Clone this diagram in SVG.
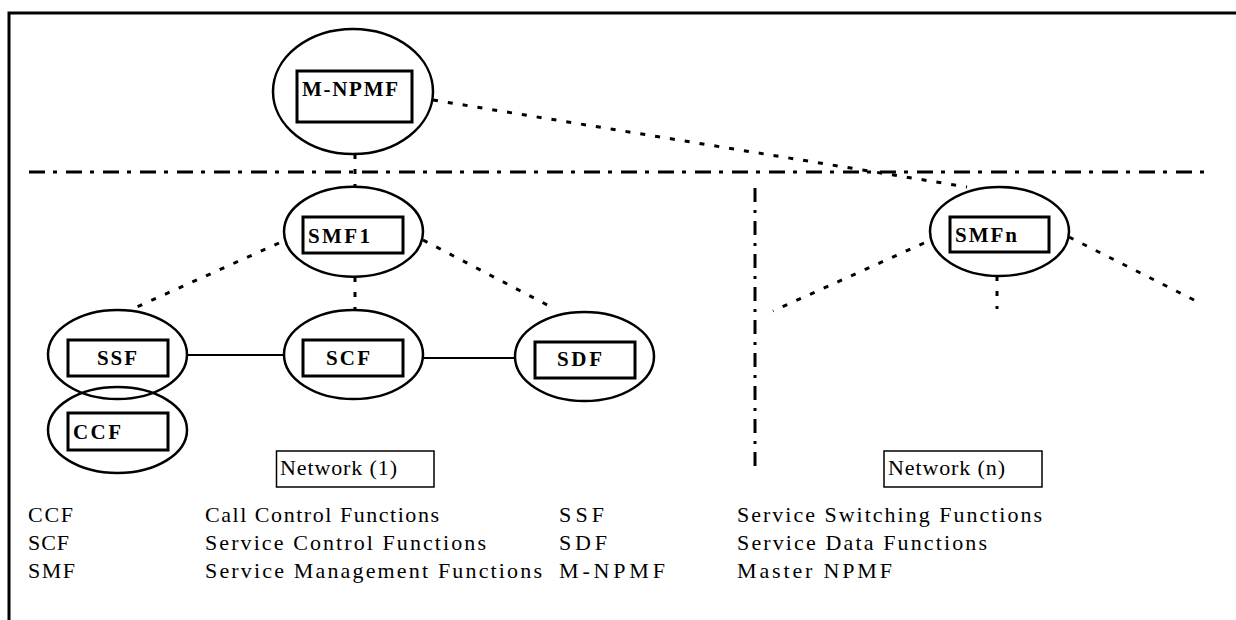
<svg xmlns="http://www.w3.org/2000/svg" width="1236" height="620" viewBox="0 0 1236 620">
<style>
.ell{fill:none;stroke:#000;stroke-width:2.5}
.box{fill:none;stroke:#000;stroke-width:3}
.nbox{fill:none;stroke:#000;stroke-width:1.5}
.lbl{font-family:"Liberation Serif","Times New Roman",serif;font-weight:bold;font-size:21px;fill:#000}
.txt{font-family:"Liberation Serif","Times New Roman",serif;font-size:22px;fill:#000}
.dot{fill:none;stroke:#000;stroke-width:3;stroke-dasharray:5 10}
.solid{fill:none;stroke:#000;stroke-width:2}
.dd{fill:none;stroke:#000;stroke-width:3}
</style>
<rect width="1236" height="620" fill="#fff"/>
<path d="M9,620 V13 H1236" fill="none" stroke="#000" stroke-width="3"/>
<g id="separators">
<line class="dd" x1="29" y1="172" x2="1207" y2="172" stroke-dasharray="16 8 4 9"/>
<line class="dd" x1="755" y1="188" x2="755" y2="467" stroke-dasharray="14 8 3 8"/>
</g>
<g id="connectors">
<line class="dot" x1="355" y1="154" x2="355" y2="187"/>
<line class="dot" x1="433" y1="100" x2="967" y2="187"/>
<line class="dot" x1="279" y1="243" x2="130" y2="310"/>
<line class="dot" x1="423" y1="240" x2="555" y2="309"/>
<line class="dot" x1="355" y1="277" x2="355" y2="310"/>
<line class="dot" x1="924" y1="243" x2="773" y2="311"/>
<line class="dot" x1="1069" y1="237" x2="1200" y2="303"/>
<line class="dot" x1="997" y1="276" x2="997" y2="309"/>
<line class="solid" x1="187" y1="355" x2="284" y2="355"/>
<line class="solid" x1="423" y1="358" x2="515" y2="358"/>
</g>
<g id="mnpmf">
<ellipse class="ell" cx="353" cy="91.5" rx="80" ry="62.5"/>
<rect class="box" x="297" y="71" width="115" height="51"/>
<text class="lbl" x="302" y="96" textLength="96" lengthAdjust="spacing">M-NPMF</text>
</g>
<g id="smf1">
<ellipse class="ell" cx="353.5" cy="231.7" rx="69.5" ry="45"/>
<rect class="box" x="303" y="217" width="100" height="36"/>
<text class="lbl" x="308" y="243" textLength="62" lengthAdjust="spacing">SMF1</text>
</g>
<g id="ssf">
<ellipse class="ell" cx="117.5" cy="354.5" rx="69.5" ry="44.5"/>
<rect class="box" x="68" y="340" width="100" height="36"/>
<text class="lbl" x="97" y="365" textLength="40" lengthAdjust="spacing">SSF</text>
</g>
<g id="ccf">
<ellipse class="ell" cx="117.5" cy="430" rx="69.5" ry="43"/>
<rect class="box" x="68" y="413" width="100" height="37"/>
<text class="lbl" x="73" y="439" textLength="48" lengthAdjust="spacing">CCF</text>
</g>
<g id="scf">
<ellipse class="ell" cx="353.5" cy="354.5" rx="69.5" ry="44.5"/>
<rect class="box" x="303" y="340" width="100" height="36"/>
<text class="lbl" x="326" y="365" textLength="44" lengthAdjust="spacing">SCF</text>
</g>
<g id="sdf">
<ellipse class="ell" cx="584.5" cy="356.5" rx="69.5" ry="44.5"/>
<rect class="box" x="535" y="342" width="100" height="36"/>
<text class="lbl" x="557" y="366" textLength="45" lengthAdjust="spacing">SDF</text>
</g>
<g id="smfn">
<ellipse class="ell" cx="999.5" cy="231.5" rx="69.5" ry="44.5"/>
<rect class="box" x="950" y="217" width="99" height="35"/>
<text class="lbl" x="955" y="242" textLength="62" lengthAdjust="spacing">SMFn</text>
</g>
<g id="network1">
<rect class="nbox" x="276.5" y="451" width="157.5" height="36"/>
<text class="txt" x="280" y="475" textLength="117" lengthAdjust="spacing">Network (1)</text>
</g>
<g id="networkn">
<rect class="nbox" x="884" y="451" width="158" height="36"/>
<text class="txt" x="888" y="475" textLength="117" lengthAdjust="spacing">Network (n)</text>
</g>
<g id="legend">
<text class="txt" x="28" y="522" textLength="45" lengthAdjust="spacing">CCF</text>
<text class="txt" x="28" y="550" textLength="41" lengthAdjust="spacing">SCF</text>
<text class="txt" x="28" y="578" textLength="47" lengthAdjust="spacing">SMF</text>
<text class="txt" x="205" y="522" textLength="234" lengthAdjust="spacing">Call Control Functions</text>
<text class="txt" x="205" y="550" textLength="281" lengthAdjust="spacing">Service Control Functions</text>
<text class="txt" x="205" y="578" textLength="337" lengthAdjust="spacing">Service Management Functions</text>
<text class="txt" x="559" y="522" textLength="45" lengthAdjust="spacing">SSF</text>
<text class="txt" x="559" y="550" textLength="48" lengthAdjust="spacing">SDF</text>
<text class="txt" x="559" y="578" textLength="106" lengthAdjust="spacing">M-NPMF</text>
<text class="txt" x="737" y="522" textLength="305" lengthAdjust="spacing">Service Switching Functions</text>
<text class="txt" x="737" y="550" textLength="250" lengthAdjust="spacing">Service Data Functions</text>
<text class="txt" x="737" y="578" textLength="155" lengthAdjust="spacing">Master NPMF</text>
</g>
</svg>
